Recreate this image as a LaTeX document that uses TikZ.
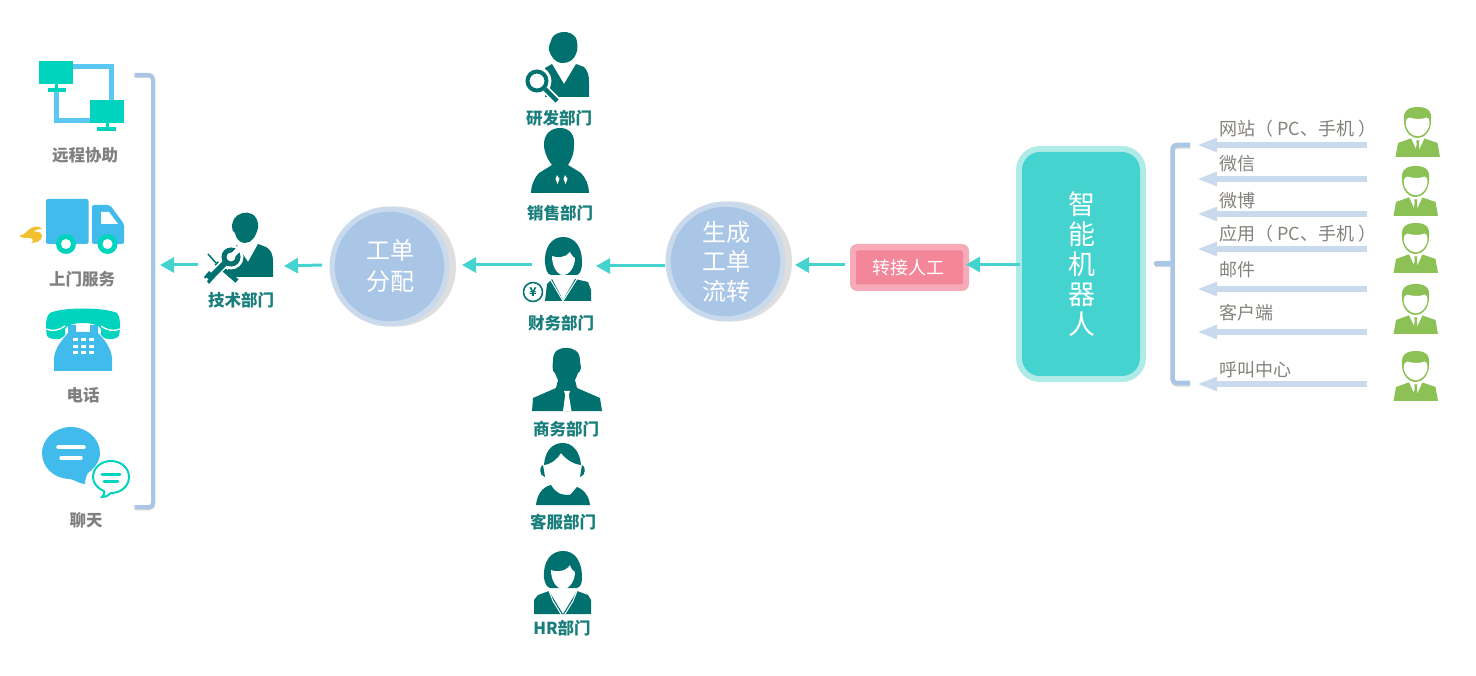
\documentclass[tikz,border=0pt]{standalone}
\usepackage{fontspec}
\setmainfont{Noto Sans CJK SC}
\usetikzlibrary{arrows.meta}
\definecolor{pteal}{HTML}{00716E}
\definecolor{tlabel}{HTML}{1A7F7C}
\definecolor{glabel}{HTML}{808080}
\definecolor{rlabel}{HTML}{85817C}
\definecolor{aqua}{HTML}{44D3CF}
\definecolor{aqualt}{HTML}{B0ECE7}
\definecolor{icteal}{HTML}{00D3BE}
\definecolor{icblue}{HTML}{41BBEC}
\definecolor{icline}{HTML}{5AC8F2}
\definecolor{flame}{HTML}{F0C030}
\definecolor{cblue}{HTML}{A9C6E6}
\definecolor{cring}{HTML}{C9DAEC}
\definecolor{cgray}{HTML}{DEDEDE}
\definecolor{ablue}{HTML}{C9DAEC}
\definecolor{pinka}{HTML}{F4869A}
\definecolor{pinkb}{HTML}{F7ABB9}
\definecolor{mgreen}{HTML}{8BC155}
\tikzset{
 x=1pt,y=-1pt,
 tealarrow/.style={draw=aqua,line width=3pt,-{Triangle[length=14pt,width=15pt]}},
 bluearrow/.style={draw=ablue,line width=6pt,-{Triangle[length=20pt,width=13pt]}},
 deptlabel/.style={font=\bfseries\fontsize{16.5}{16.5}\selectfont,text=tlabel,inner sep=0pt},
 svclabel/.style={font=\bfseries\fontsize{16.5}{16.5}\selectfont,text=glabel,inner sep=0pt},
 chanlabel/.style={font=\fontsize{18}{18}\selectfont,text=rlabel,inner sep=0pt,anchor=west},
 bracketline/.style={draw=cblue,line width=4pt,line join=round,rounded corners=4pt},
 bracketshadow/.style={draw=black!45,opacity=.35,line width=3.5pt,rounded corners=4pt},
 circleout/.style={circle,fill=cgray,minimum size=120pt,inner sep=0pt},
 circlering/.style={circle,fill=cring,minimum size=120pt,inner sep=0pt},
 circlein/.style={circle,fill=cblue,minimum size=109.500pt,inner sep=0pt},
 whitetext/.style={text=white,align=center,inner sep=0pt},
}
\newcommand{\greenman}[2]{%
\begin{scope}[shift={(#1,#2)}]
 \fill[mgreen] (0,50) -- (2.5,36) -- (15,31.5) -- (29,31.5) -- (42,36) -- (44.5,50) -- cycle;
 \fill[white] (15.5,31) -- (21.5,44) -- (23,44) -- (29,31) -- cycle;
 \fill[mgreen] (20.7,33.5) -- (23.8,33.5) -- (23.3,36.5) -- (24,42.5) -- (22.2,45.5) -- (20.4,42.5) -- (21.2,36.5) -- cycle;
 \fill[mgreen] (8.5,14) .. controls (7,3) and (14,0) .. (22,0) .. controls (31,0) and (37,3) .. (35.5,14) .. controls (35.5,24) and (29,31) .. (22.3,31) .. controls (15,31) and (8.5,24) .. (8.5,14) -- cycle;
 \fill[white] (10.2,15.5) .. controls (10.2,12.5) and (11.5,11) .. (14,10.5) .. controls (19,12.5) and (27,12.5) .. (31,10.5) .. controls (33,11) and (34,12.5) .. (34,15.5) .. controls (34,23) and (28,29.3) .. (22.3,29.3) .. controls (16,29.3) and (10.2,23) .. (10.2,15.5) -- cycle;
\end{scope}}
\begin{document}
\begin{tikzpicture}
\useasboundingbox (0,0) rectangle (1476,676);
\fill[white] (0,0) rectangle (1476,676);

% ---- remote assistance icon
\draw[icline,line width=5pt] (73,66.5) -- (111.5,66.5) -- (111.5,105);
\draw[icline,line width=5pt] (56.5,90) -- (56.5,120.5) -- (92,120.5);
\fill[icteal] (39,61) rectangle (73,84);
\fill[icteal] (55,84) rectangle (58,88);
\fill[icteal] (48,88) rectangle (66,92);
\fill[icteal] (90,100) rectangle (123.5,123);
\fill[icteal] (105.5,123) rectangle (108.5,128);
\fill[icteal] (97,127.5) rectangle (115.5,131);
\node[svclabel] (lremote) at (85,155) {远程协助};

% ---- truck icon
\fill[icblue,rounded corners=2pt] (46,199) rectangle (88.5,244);
\fill[icblue,rounded corners=2pt] (92,205) -- (110,205) -- (124,224) -- (124,244) -- (92,244) -- cycle;
\fill[white] (101,212) -- (109,212) -- (118,224) -- (101,224) -- cycle;
\fill[icteal] (66,244) circle (10);
\fill[white] (66,244) circle (5);
\fill[icteal] (107.500,244) circle (10);
\fill[white] (107.500,244) circle (5);
\fill[flame] (19,236) .. controls (24,235) and (27,231) .. (31,228) .. controls (35,226) and (40,226) .. (42,229) .. controls (38,229) and (35,230) .. (33,232) .. controls (37,231) and (42,232) .. (42,236) .. controls (42,241) and (36,243) .. (31,243) .. controls (35,241) and (33,238) .. (29,238) .. controls (25,238) and (22,238) .. (19,236) -- cycle;
\node[svclabel] (lvisit) at (82,279) {上门服务};

% ---- telephone icon
\fill[icblue] (54,371) -- (54,358) .. controls (55,348) and (62,340) .. (68,333) -- (68,325) -- (76,325) -- (76,332) -- (90,332) -- (90,325) -- (98,325) -- (98,333) .. controls (105,340) and (111,348) .. (112,358) -- (112,371) -- cycle;
\fill[icteal] (50,313) .. controls (62,307) and (104,307) .. (117,313) .. controls (120,316) and (121,326) .. (119,336) .. controls (113,341) and (104,340) .. (101,335) -- (101,329) .. controls (98,321) and (68,321) .. (65,329) -- (65,335) .. controls (62,340) and (52,341) .. (47,336) .. controls (45,326) and (46,316) .. (50,313) -- cycle;
\draw[white,line width=1.3pt] (46,329) .. controls (52,332) and (60,330) .. (65,326);
\draw[white,line width=1.3pt] (120,329) .. controls (114,332) and (106,330) .. (101,326);
\foreach \bx in {72.5,80.5,88.5} \foreach \by in {338,345,351} \fill[white] (\bx,\by) rectangle ++(5,3);
\node[svclabel] (lphone) at (83,395) {电话};

% ---- chat icon
\fill[icblue] (71,427) .. controls (87,427) and (100,439) .. (100,453) .. controls (100,461) and (95,468) .. (88,473) .. controls (86,476) and (85,481) .. (85,484) .. controls (80,484) and (75,480) .. (70,479) .. controls (55,479) and (42,468) .. (42,453) .. controls (42,439) and (55,427) .. (71,427) -- cycle;
\draw[white,line width=3.5pt,line cap=round] (58,447) -- (84,447);
\draw[white,line width=3.5pt,line cap=round] (61,458) -- (81,458);
\draw[icteal,line width=2pt,fill=white] (111,461) .. controls (121,461) and (129,468) .. (129,477) .. controls (129,487) and (120,493) .. (111,493) .. controls (109,495) and (106,497) .. (102,497) .. controls (104,495) and (105,493) .. (104,491) .. controls (97,488) and (93,483) .. (93,477) .. controls (93,468) and (101,461) .. (111,461) -- cycle;
\draw[icteal,line width=3pt,line cap=round] (102,474) -- (120,474);
\draw[icteal,line width=3pt,line cap=round] (104,481) -- (118,481);
\node[svclabel] (lchat) at (86,520) {聊天};

% ---- left bracket
\coordinate (lbt) at (134.5,75);
\coordinate (lbb) at (134.5,507);
\draw[bracketshadow] (134.5,76.5) -- (153.5,76.5) -- (153.500,508.5) -- (134.5,508.5);
\draw[bracketline] (lbt) -- (153,75) -- (153,507) -- (lbb);

% ---- tech dept icon
\fill[pteal] (232,227) .. controls (232,223) and (233,222) .. (234,219) .. controls (238,213) and (246,211) .. (252,214) .. controls (256,216) and (259,222) .. (258,228) .. controls (256,236) and (252,243) .. (245,243) .. controls (239,243) and (236,238) .. (235,233) .. controls (233,232) and (232,230) .. (232,227) -- cycle;
\fill[pteal] (228,250) -- (237,245) -- (248,262) -- (258,244) -- (266,247) .. controls (271,250) and (273,254) .. (273,262) -- (273,277) -- (228,277) -- cycle;
\draw[pteal,line width=1.500pt] (208,254) -- (216,263);
\draw[pteal,line width=4.500pt] (216,263) -- (237,281);
\fill[white] (231,257) circle (12.500);
\draw[white,line width=9pt] (225,263) -- (210,277);
\draw[pteal,line width=5pt] (231,257) circle (7);
\draw[white,line width=5pt] (232,256) -- (241,247);
\draw[pteal,line width=6pt] (225,263) -- (210,278);
\fill[pteal] (204,277) -- (209,271) -- (215,277) -- (209,284) -- cycle;
\fill[white] (206.500,279.500) circle (1.800);
\node[deptlabel] (ltech) at (241,300) {技术部门};

% ---- circle: ticket assignment
\node[circleout] (assignout) at (396,266.500) {};
\node[circlering] (assignring) at (389.500,266.500) {};
\node[circlein] (assigncore) at (389.500,266.500) {};
\node[whitetext,font=\fontsize{24}{31}\selectfont] (assign) at (390.500,265.500) {工单\\分配};

% ---- dept icons
% R&D
\fill[pteal] (549,50) .. controls (548,46) and (551,42) .. (552,38) .. controls (556,31) and (570,29) .. (576,38) .. controls (578,43) and (578,50) .. (576,54) .. controls (574,59) and (570,63) .. (563,63) .. controls (555,63) and (551,57) .. (549,50) -- cycle;
\fill[pteal] (545,68) -- (552,64) -- (564,84) -- (576,64) -- (584,67) .. controls (588,71) and (589,76) .. (589,82) -- (589,97) -- (545,97) -- cycle;
\draw[white,line width=3pt,fill=white] (537,81) circle (13);
\draw[white,line width=8pt] (546,90) -- (558,102);
\draw[pteal,line width=4pt,fill=white] (537,81) circle (9.500);
\draw[pteal,line width=4.500pt] (545,89) -- (557,101);
\node[deptlabel] (lrd) at (559,118) {研发部门};
% Sales
\fill[pteal] (544,147) .. controls (543,134) and (551,128) .. (560,128) .. controls (569,128) and (575,134) .. (574,145) .. controls (574,155) and (571,160) .. (568,165) -- (581,173) .. controls (586,178) and (589,186) .. (589,193) -- (531,193) .. controls (531,186) and (534,178) .. (539,173) -- (552,165) .. controls (548,160) and (545,154) .. (544,147) -- cycle;
\fill[white] (557,175) -- (559.500,179) -- (557.500,184) -- (555.500,179) -- cycle;
\fill[white] (565,175) -- (567.500,179) -- (565.500,184) -- (563.500,179) -- cycle;
\node[deptlabel] (lsales) at (560,213) {销售部门};
% Finance
\fill[pteal] (545,263) .. controls (544,247) and (552,237) .. (563,237) .. controls (575,237) and (582,247) .. (582,262) .. controls (582,270) and (580,274) .. (577,275) -- (551,275) .. controls (547,274) and (546,270) .. (545,263) -- cycle;
\fill[white] (552,256) .. controls (556,258) and (566,258) .. (570,252) .. controls (572,256) and (574,258) .. (575,258) .. controls (575,266) and (570,275) .. (563,275) .. controls (557,275) and (552,266) .. (552,256) -- cycle;
\fill[pteal] (545,301) -- (547,284) -- (552,279) -- (563,300) -- (575,279) -- (588,282) -- (591,290) -- (591,301) -- cycle;
\draw[white,line width=1pt] (550,279) -- (563,301) -- (577,279);
\draw[pteal,line width=1.500pt,fill=white] (533,292) circle (9.500);
\node[text=pteal,inner sep=0pt,font=\bfseries\fontsize{12}{12}\selectfont] (yen) at (533,292) {¥};
\node[deptlabel] (lfin) at (561,323) {财务部门};
% Business
\fill[pteal] (553,361) .. controls (553,351) and (558,348) .. (566,348) .. controls (574,348) and (580,351) .. (580,361) -- (581,368) .. controls (581,371) and (579,372) .. (578,373) .. controls (577,376) and (576,378) .. (575,380) -- (577,388) -- (600,398) -- (602,411) -- (532,411) -- (533,398) -- (556,388) -- (558,380) .. controls (557,378) and (556,376) .. (555,373) .. controls (553,372) and (552,370) .. (553,361) -- cycle;
\fill[white] (564,391) -- (570,391) -- (568.800,395) -- (571.500,411) -- (563,411) -- (565.200,395) -- cycle;
\node[deptlabel] (lbiz) at (566,429) {商务部门};
% Customer service
\fill[pteal] (544,465) .. controls (545,451) and (552,443) .. (563,443) .. controls (572,443) and (580,451) .. (581,465) .. controls (572,464) and (565,458) .. (561,453) .. controls (558,458) and (552,464) .. (544,465) -- cycle;
\fill[pteal] (543,465) .. controls (539,466) and (539,476) .. (545,477) -- cycle;
\fill[pteal] (582,465) .. controls (586,466) and (586,476) .. (580,477) -- cycle;
\fill[pteal] (536,505) .. controls (537,495) and (542,487) .. (551,485) .. controls (556,493) and (560,495) .. (570,495) .. controls (573,492) and (575,489) .. (577,487) .. controls (585,490) and (589,497) .. (590,505) -- cycle;
\node[deptlabel] (lcs) at (563,522) {客服部门};
% HR
\fill[pteal] (544,578) .. controls (543,561) and (551,551) .. (563,551) .. controls (575,551) and (582,561) .. (582,578) .. controls (582,584) and (580,587) .. (577,588) -- (550,588) .. controls (547,587) and (545,584) .. (544,578) -- cycle;
\fill[white] (551,570) .. controls (556,572) and (566,572) .. (570,565) .. controls (571,569) and (573,571) .. (575,572) .. controls (575,580) and (570,589) .. (563,589) .. controls (556,589) and (551,580) .. (551,570) -- cycle;
\fill[pteal] (534,614) -- (534,600) -- (538,595) -- (549,591) -- (563,614) -- (577,591) -- (588,595) -- (591,600) -- (591,614) -- cycle;
\draw[white,line width=1pt] (549,591) -- (553,601) -- (561,614);
\draw[white,line width=1pt] (577,591) -- (573,601) -- (565,614);
\node[deptlabel] (lhr) at (562,628) {HR部门};

% ---- circle: generate & flow
\node[circleout] (flowout) at (732,261.500) {};
\node[circlering] (flowring) at (725.500,261.500) {};
\node[circlein] (flowcore) at (725.500,261.500) {};
\node[whitetext,font=\fontsize{24}{29.500}\selectfont] (flow) at (726,261.500) {生成\\工单\\流转};

% ---- transfer
\fill[pinkb,rounded corners=7pt] (850,244) rectangle (969,291);
\node[fill=pinka,rounded corners=2pt,minimum width=107pt,minimum height=34pt,inner sep=0pt] (transfer) at (909.500,267.500) {};
\node[whitetext,font=\fontsize{18}{18}\selectfont] (transfert) at (908.500,267.500) {转接人工};

% ---- robot
\fill[aqualt,rounded corners=24pt] (1016,146) rectangle (1146,382);
\fill[aqua,rounded corners=18pt] (1022,152) rectangle (1140,376);
\node[whitetext,font=\fontsize{27}{30}\selectfont] (robot) at (1082,264) {智\\能\\机\\器\\人};

% ---- teal connectors
\coordinate (techL) at (198,265);
\coordinate (bracketR) at (160,265);
\coordinate (assignL) at (322,265);
\coordinate (techR) at (284,266);
\coordinate (finL) at (532,265);
\coordinate (assignR) at (462,265);
\coordinate (flowL) at (665,266);
\coordinate (finR) at (596,266);
\coordinate (transL) at (845,265);
\coordinate (flowR) at (795,265);
\coordinate (robotL) at (1020,264.500);
\coordinate (transR) at (966,264.500);
\draw[tealarrow] (techL) -- (bracketR);
\draw[tealarrow] (assignL) -- (techR);
\draw[tealarrow] (finL) -- (assignR);
\draw[tealarrow] (flowL) -- (finR);
\draw[tealarrow] (transL) -- (flowR);
\draw[tealarrow] (robotL) -- (transR);

% ---- right brace
\draw[bracketshadow] (1190,147) -- (1173,147) -- (1173,385) -- (1190,385);
\draw[bracketshadow,rounded corners=0pt] (1155,265.500) -- (1171,265.500);
\draw[bracketline,line width=4.500pt] (1190,145) -- (1172.500,145) -- (1172.500,383) -- (1190,383);
\draw[bracketline,line width=4.500pt,rounded corners=0pt,line cap=round] (1156,263.500) -- (1172.500,263.500);

% ---- channel arrows and labels
\foreach \nm/\ay in {a/145,b/179,c/214,d/249,e/289,f/332,g/384}{
 \coordinate (s\nm) at (1367,\ay);
 \coordinate (t\nm) at (1197,\ay);
 \draw[bluearrow] (s\nm) -- (t\nm);
}
\node[chanlabel] (ca) at (1219,129) {网站（ PC、手机 ）};
\node[chanlabel] (cb) at (1219,164) {微信};
\node[chanlabel] (cc) at (1219,201) {微博};
\node[chanlabel] (cd) at (1219,234) {应用（ PC、手机 ）};
\node[chanlabel] (ce) at (1219,270) {邮件};
\node[chanlabel] (cf) at (1219,312.500) {客户端};
\node[chanlabel] (cg) at (1219,370) {呼叫中心};

% ---- users
\greenman{1395.500}{107}
\greenman{1393.500}{166}
\greenman{1393.500}{223}
\greenman{1393.500}{284}
\greenman{1393.500}{351}
\end{tikzpicture}
\end{document}
